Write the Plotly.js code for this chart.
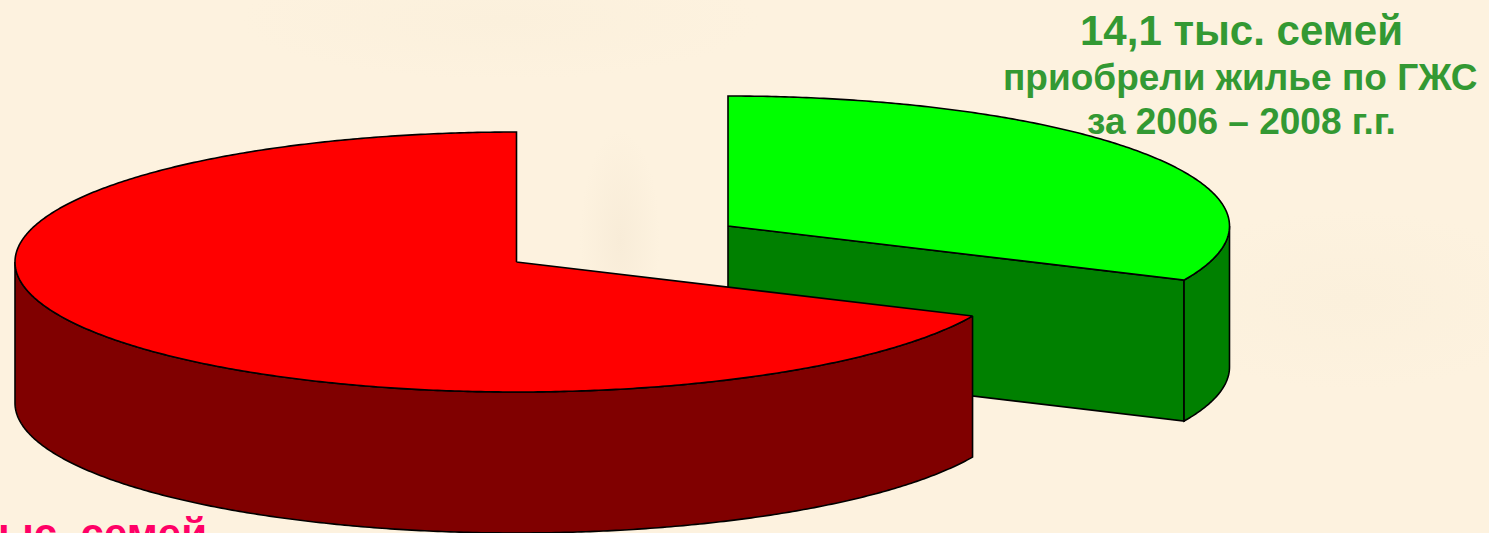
<!DOCTYPE html>
<html>
<head>
<meta charset="utf-8">
<script src="https://cdn.plot.ly/plotly-3.0.1.min.js"></script>
<style>
html,body{margin:0;padding:0;width:1489px;height:533px;overflow:hidden;
background:
 radial-gradient(ellipse 40px 110px at 620px 240px,#f8ecd8 0%,rgba(248,236,216,0) 100%),
 radial-gradient(ellipse 200px 90px at 1350px 300px,#fbf0dc 0%,rgba(251,240,220,0) 100%),
 radial-gradient(ellipse 260px 60px at 500px 20px,#fbf0dc 0%,rgba(251,240,220,0) 100%),
 #fdf2df;}
#chart{width:1489px;height:533px;}
</style>
</head>
<body>
<div id="chart"></div>
<script>
const categories = ["Остальные семьи", "Приобрели жилье по ГЖС"];
const familyValues = [30.2, 14.1];
const topColors = ["#ff0000", "#00ff00"];
const sideColors = ["#800000", "#008000"];

const labelLines = ["14,1 тыс. семей", "приобрели жилье по ГЖС", "за 2006 – 2008 г.г."];
const pinkLabel = "30,2 тыс. семей";

// Projection of the tilted pie, in the picture's own units
const RX = 501.5, RY = 130, DEPTH = 141;
const redCentre = [516.5, 262], greenCentre = [728, 226];

const total = familyValues[0] + familyValues[1];
const splitDeg = 360 * familyValues[1] / total;   // clockwise from 12 o'clock

function rim(c, deg, drop) {
  const t = deg * Math.PI / 180;
  return [c[0] + RX * Math.sin(t), c[1] - RY * Math.cos(t) + drop];
}
function arc(c, from, to, drop) {
  const pts = [], n = Math.max(2, Math.round(Math.abs(to - from) * 2));
  for (let i = 0; i <= n; i++) pts.push(rim(c, from + (to - from) * i / n, drop));
  return pts;
}
function poly(pts, fill, name) {
  const closed = pts.concat([pts[0]]);
  return {
    type: "scatter", mode: "lines", name: name, hoverinfo: "name",
    x: closed.map(p => p[0]), y: closed.map(p => p[1]),
    fill: "toself", fillcolor: fill,
    line: {color: "#000000", width: 1.6, simplify: false},
    showlegend: false
  };
}

const g = greenCentre, r = redCentre;
const traces = [
  // green slice: cut face, outer wall, top
  poly([[g[0], g[1]], rim(g, splitDeg, 0), rim(g, splitDeg, DEPTH), [g[0], g[1] + DEPTH]], sideColors[1], categories[1]),
  poly(arc(g, 90, splitDeg, 0).concat(arc(g, splitDeg, 90, DEPTH)), sideColors[1], categories[1]),
  poly([[g[0], g[1]]].concat(arc(g, 0, splitDeg, 0)), topColors[1], categories[1]),
  // red slice: outer wall, top
  poly(arc(r, splitDeg, 270, 0).concat(arc(r, 270, splitDeg, DEPTH)), sideColors[0], categories[0]),
  poly([[r[0], r[1]]].concat(arc(r, splitDeg, 360, 0)), topColors[0], categories[0])
];

function note(text, x, y, size, color, xanchor, yanchor) {
  return {text: text, x: x, y: y, xref: "x", yref: "y", showarrow: false,
    xanchor: xanchor, yanchor: yanchor, borderpad: 0,
    font: {family: "Liberation Sans, Arial, sans-serif", size: size, color: color}};
}
const GREEN_TEXT = "#339933";
const layout = {
  width: 1489, height: 533,
  margin: {l: 0, r: 0, t: 0, b: 0},
  paper_bgcolor: "rgba(0,0,0,0)", plot_bgcolor: "rgba(0,0,0,0)",
  xaxis: {range: [0, 1489], visible: false, fixedrange: true},
  yaxis: {range: [533, 0], visible: false, fixedrange: true},
  annotations: [
    note("<b>" + labelLines[0] + "</b>", 1241, 30, 42, GREEN_TEXT, "center", "middle"),
    note("<b>" + labelLines[1] + "</b>", 1240, 77, 37, GREEN_TEXT, "center", "middle"),
    note("<b>" + labelLines[2] + "</b>", 1241, 121, 37, GREEN_TEXT, "center", "middle"),
    note("<b>" + pinkLabel + "</b>", 208, 509, 42, "#ff0066", "right", "top")
  ]
};
Plotly.newPlot("chart", traces, layout, {displayModeBar: false, staticPlot: true});
</script>
</body>
</html>
